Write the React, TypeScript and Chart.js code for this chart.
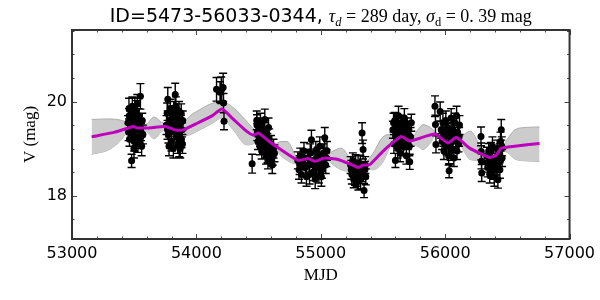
import React, { useEffect, useRef } from "react";
import { Chart, registerables } from "chart.js";

Chart.register(...registerables);

// ---------- text ----------
const titleId = "ID=5473-56033-0344,";
const tauText = "289";
const sigmaText = "0. 39";
const xTitle = "MJD";
const yTitle = "V (mag)";

// ---------- axes ----------
const xMin = 53000;
const xMax = 57000;
const yMin = 17.08;
const yMax = 21.52;
const xTicks = [53000, 54000, 55000, 56000, 57000];
const yTicks = [18, 20];

// ---------- observations (MJD, V mag, error) ----------
const obsMjd = [
  // season 1
  53450, 53455, 53460, 53462, 53470, 53479, 53480, 53485, 53488, 53492, 53495, 53500, 53505, 53508,
  53512, 53515, 53520, 53525, 53530, 53535, 53540, 53545, 53550, 53555, 53560, 53565, 53570,
  // season 2
  53760, 53765, 53770, 53775, 53780, 53785, 53790, 53800, 53805, 53810, 53815, 53820, 53825, 53830,
  53835, 53840, 53845, 53850, 53855, 53860, 53865, 53870, 53875, 53880, 53885, 53890,
  // season 3
  54162, 54190, 54200, 54215, 54218, 54222,
  // season 4
  54448, 54485, 54490, 54495, 54500, 54505, 54510, 54515, 54520, 54525, 54530, 54535, 54540, 54550,
  54555, 54560, 54565, 54570, 54575, 54580, 54590, 54600, 54605, 54610, 54620, 54628,
  // season 5
  54815, 54825, 54835, 54845, 54855, 54865, 54875, 54885, 54895, 54905, 54915, 54925, 54935, 54945,
  54955, 54965, 54975, 54985, 54992, 55000, 55010, 55020, 55032, 55040, 55050,
  // season 6
  55240, 55250, 55258, 55265, 55272, 55280, 55288, 55295, 55302, 55310, 55318, 55325, 55332, 55340,
  55348, 55355, 55362,
  // season 7
  55580, 55588, 55595, 55600, 55605, 55612, 55618, 55625, 55630, 55638, 55645, 55650, 55658, 55665,
  55672, 55680, 55688, 55695, 55700, 55708, 55715, 55722, 55728,
  // season 8
  55918, 55922, 55926, 55960, 55968, 55975, 55982, 55990, 55998, 56005, 56012, 56020, 56028, 56032,
  56040, 56048, 56055, 56062, 56070, 56078, 56085, 56092, 56100, 56108, 56115,
  // season 9
  56288, 56290, 56292, 56294, 56335, 56342, 56350, 56358, 56365, 56372, 56380, 56388, 56395, 56402,
  56410, 56418, 56424, 56430, 56438, 56445, 56451, 56458,
  // additional epochs
  53458, 53468, 53498, 53518, 53532, 53548, 53768, 53795, 53818, 53848, 53862, 53878, 53888,
  54487, 54512, 54545, 54572, 54585, 54615, 54830, 54870, 54910, 54960, 55005, 55045,
  55245, 55275, 55300, 55320, 55358, 55585, 55610, 55642, 55668, 55690, 55712,
  55985, 56015, 56045, 56075, 56095, 56112, 56340, 56368, 56392, 56415, 56440, 56455,
];
const obsMag = [
  19.55, 19.35, 19.7, 19.2, 19.45, 18.74, 19.6, 19.9, 19.3, 19.75, 19.5, 19.15, 19.85, 19.4,
  19.65, 19.25, 19.55, 19.95, 19.1, 19.7, 19.45, 19.2, 20.11, 19.35, 19.05, 19.6, 19.3,
  19.5, 19.75, 20.05, 19.3, 19.05, 19.6, 19.85, 19.15, 19.45, 19.7, 19.0, 19.55, 19.35, 20.15,
  19.9, 19.25, 19.65, 19.1, 19.45, 19.8, 19.3, 19.0, 19.55, 19.2, 19.4, 19.6,
  20.26, 20.2, 20.24, 20.3, 19.97, 19.58,
  18.68, 19.6, 19.35, 19.15, 19.45, 19.25, 19.05, 19.55, 19.3, 18.95, 19.2, 19.4, 19.1, 19.62,
  19.0, 18.85, 19.3, 19.15, 18.75, 19.45, 18.95, 19.1, 18.8, 18.65, 19.0, 18.9,
  18.75, 18.55, 18.85, 18.45, 18.7, 18.95, 18.6, 18.4, 18.8, 18.65, 18.9, 19.19, 18.5, 18.75,
  18.35, 18.6, 18.85, 18.45, 19.05, 18.7, 18.55, 18.9, 19.23, 18.65, 18.95,
  18.65, 18.45, 18.75, 18.35, 18.55, 18.7, 18.4, 18.6, 18.3, 18.5, 18.68, 18.45, 19.33, 18.98,
  18.11, 18.55, 18.4,
  19.4, 19.1, 19.6, 18.75, 19.25, 19.5, 19.0, 19.7, 19.35, 18.9, 19.55, 19.2, 19.45, 19.05,
  19.65, 19.3, 18.85, 19.5, 19.15, 19.4, 18.72, 19.25, 19.55,
  19.9, 19.51, 19.09, 19.79, 19.4, 19.15, 19.55, 18.95, 19.3, 19.6, 19.05, 19.45, 18.85, 18.53,
  19.25, 19.65, 19.0, 19.4, 18.8, 19.55, 19.2, 19.7, 19.35, 19.1, 19.5,
  19.26, 18.94, 18.73, 18.48, 18.85, 18.6, 18.95, 18.45, 18.75, 18.55, 19.05, 18.65, 18.4, 18.8,
  18.6, 19.0, 18.34, 18.7, 18.9, 19.15, 19.4, 18.8,
  19.85, 19.6, 19.0, 19.8, 19.5, 19.4, 19.4, 19.55, 19.8, 19.5, 19.05, 19.75, 19.1,
  19.5, 19.25, 19.35, 18.9, 19.2, 18.85, 18.65, 18.8, 18.45, 18.95, 18.4, 18.8,
  18.55, 18.4, 18.65, 18.35, 18.65, 19.55, 19.3, 19.15, 19.45, 19.25, 19.05,
  19.25, 19.35, 18.95, 19.3, 18.95, 19.25, 18.7, 18.95, 18.55, 18.8, 18.55, 19.05,
];
const obsErr = [
  0.15, 0.18, 0.15, 0.15, 0.12, 0.14, 0.17, 0.2, 0.15, 0.18, 0.13, 0.2, 0.22, 0.15,
  0.16, 0.18, 0.14, 0.2, 0.18, 0.15, 0.16, 0.2, 0.27, 0.18, 0.2, 0.15, 0.2,
  0.2, 0.22, 0.25, 0.18, 0.2, 0.16, 0.2, 0.2, 0.15, 0.18, 0.2, 0.14, 0.16, 0.24,
  0.2, 0.17, 0.15, 0.2, 0.16, 0.2, 0.15, 0.2, 0.16, 0.18, 0.15, 0.2,
  0.25, 0.22, 0.28, 0.3, 0.2, 0.18,
  0.2, 0.2, 0.18, 0.17, 0.2, 0.15, 0.18, 0.2, 0.16, 0.17, 0.15, 0.2, 0.18, 0.22,
  0.2, 0.18, 0.15, 0.17, 0.18, 0.2, 0.16, 0.18, 0.17, 0.18, 0.2, 0.18,
  0.18, 0.2, 0.16, 0.18, 0.15, 0.18, 0.16, 0.2, 0.17, 0.15, 0.2, 0.2, 0.18, 0.15,
  0.2, 0.17, 0.18, 0.18, 0.2, 0.16, 0.18, 0.2, 0.22, 0.18, 0.2,
  0.18, 0.2, 0.16, 0.18, 0.15, 0.17, 0.2, 0.15, 0.18, 0.16, 0.18, 0.15, 0.22, 0.2,
  0.15, 0.18, 0.17,
  0.18, 0.2, 0.17, 0.15, 0.18, 0.16, 0.2, 0.2, 0.15, 0.18, 0.16, 0.17, 0.15, 0.2,
  0.2, 0.16, 0.18, 0.15, 0.17, 0.18, 0.16, 0.2, 0.18,
  0.22, 0.2, 0.18, 0.2, 0.18, 0.17, 0.2, 0.18, 0.16, 0.2, 0.18, 0.16, 0.2, 0.15,
  0.17, 0.2, 0.18, 0.16, 0.18, 0.2, 0.17, 0.2, 0.18, 0.17, 0.2,
  0.2, 0.18, 0.16, 0.18, 0.18, 0.2, 0.16, 0.18, 0.15, 0.18, 0.2, 0.16, 0.2, 0.17,
  0.16, 0.18, 0.18, 0.17, 0.2, 0.2, 0.22, 0.18,
  0.22, 0.2, 0.2, 0.22, 0.2, 0.18, 0.2, 0.22, 0.2, 0.2, 0.22, 0.2, 0.2,
  0.22, 0.2, 0.2, 0.2, 0.22, 0.2, 0.2, 0.18, 0.2, 0.2, 0.2, 0.18,
  0.2, 0.18, 0.2, 0.2, 0.18, 0.2, 0.2, 0.18, 0.2, 0.2, 0.2,
  0.2, 0.18, 0.2, 0.2, 0.18, 0.2, 0.2, 0.18, 0.2, 0.2, 0.18, 0.2,
];

// ---------- model mean ----------
const gpMjd = [
  53158, 53345, 53492, 53519, 53613, 53747, 53841, 53894, 54014, 54122, 54205, 54283, 54390, 54456,
  54500, 54590, 54657, 54818, 54898, 54952, 55032, 55139, 55247, 55300, 55340, 55394, 55514, 55648,
  55715, 55916, 56022, 56090, 56197, 56357, 56410, 56451, 56558, 56759,
];
const gpMag = [
  19.25, 19.35, 19.47, 19.44, 19.44, 19.47, 19.39, 19.4, 19.55, 19.69, 19.84, 19.66, 19.4, 19.29,
  19.33, 19.14, 19.02, 18.75, 18.79, 18.73, 18.8, 18.77, 18.66, 18.6, 18.65, 18.66, 18.98, 19.26,
  19.16, 19.31, 19.12, 19.24, 19.01, 18.81, 18.86, 19.01, 19.05, 19.11,
];

// ---------- model uncertainty band ----------
const bandMjd = [
  53158, 53300, 53400, 53450, 53500, 53570, 53600, 53660, 53720, 53760, 53800, 53880, 53920, 54028,
  54135, 54202, 54296, 54404, 54470, 54500, 54550, 54630, 54680, 54730, 54800, 54850, 54950,
  55050, 55100, 55166, 55220, 55280, 55360, 55420, 55500, 55560, 55600, 55650, 55730, 55780, 55822,
  55880, 55920, 56020, 56100, 56150, 56200, 56260, 56300, 56360, 56420, 56464, 56500, 56560, 56650,
  56759,
];
const bandUpper = [
  19.62, 19.63, 19.6, 19.55, 19.53, 19.5, 19.52, 19.67, 19.56, 19.52, 19.47, 19.45, 19.62, 19.83,
  19.97, 20.0, 19.87, 19.58, 19.4, 19.38, 19.28, 19.1, 19.15, 19.15, 18.85, 18.8, 18.78,
  18.85, 18.95, 19.01, 18.85, 18.65, 18.7, 18.9, 19.25, 19.3, 19.28, 19.3, 19.22, 19.4, 19.51,
  19.45, 19.36, 19.17, 19.28, 19.3, 19.37, 19.15, 18.88, 18.86, 18.92, 19.05, 19.2, 19.4, 19.45,
  19.46,
];
const bandLower = [
  18.88, 18.98, 19.2, 19.38, 19.41, 19.38, 19.36, 19.21, 19.36, 19.42, 19.35, 19.31, 19.28, 19.4,
  19.55, 19.65, 19.4, 19.08, 19.12, 19.24, 19.18, 19.0, 18.85, 18.75, 18.68, 18.7, 18.68,
  18.75, 18.65, 18.55, 18.52, 18.55, 18.58, 18.55, 18.72, 19.05, 19.15, 19.22, 19.1, 19.05, 18.98,
  19.12, 19.26, 19.07, 19.18, 18.95, 18.77, 18.75, 18.75, 18.76, 18.82, 18.95, 18.92, 18.78, 18.74,
  18.73,
];

const SANS = '"DejaVu Sans", sans-serif';
const SERIF = '"Liberation Serif", "DejaVu Serif", serif';

const errorBarPlugin = {
  id: "errorBars",
  beforeDatasetDraw(chart: any, args: any) {
    if (args.index !== 2) return;
    const { ctx, scales, chartArea } = chart;
    const xs = scales.x;
    const ys = scales.y;
    ctx.save();
    ctx.beginPath();
    ctx.rect(chartArea.left, chartArea.top, chartArea.right - chartArea.left, chartArea.bottom - chartArea.top);
    ctx.clip();
    ctx.strokeStyle = "#000";
    ctx.lineWidth = 1.4;
    ctx.beginPath();
    for (let i = 0; i < obsMjd.length; i++) {
      const px = xs.getPixelForValue(obsMjd[i]);
      const y1 = ys.getPixelForValue(obsMag[i] + obsErr[i]);
      const y2 = ys.getPixelForValue(obsMag[i] - obsErr[i]);
      ctx.moveTo(px, y1);
      ctx.lineTo(px, y2);
      ctx.moveTo(px - 4, y1);
      ctx.lineTo(px + 4, y1);
      ctx.moveTo(px - 4, y2);
      ctx.lineTo(px + 4, y2);
    }
    ctx.stroke();
    ctx.restore();
  },
};

const framePlugin = {
  id: "frame",
  afterDraw(chart: any) {
    const { ctx, chartArea, scales } = chart;
    const { left, right, top, bottom } = chartArea;
    const xs = scales.x;
    const ys = scales.y;
    ctx.save();
    // ticks
    ctx.strokeStyle = "#444";
    ctx.lineWidth = 1;
    ctx.beginPath();
    for (let v = xMin; v <= xMax; v += 200) {
      const px = Math.round(xs.getPixelForValue(v)) + 0.5;
      const len = v % 1000 === 0 ? 5 : 2.5;
      ctx.moveTo(px, bottom);
      ctx.lineTo(px, bottom - len);
      ctx.moveTo(px, top);
      ctx.lineTo(px, top + len);
    }
    for (let v = 17.5; v <= 21.5; v += 0.5) {
      const py = Math.round(ys.getPixelForValue(v)) + 0.5;
      const len = v % 2 === 0 ? 5 : 2.5;
      ctx.moveTo(left, py);
      ctx.lineTo(left + len, py);
      ctx.moveTo(right, py);
      ctx.lineTo(right - len, py);
    }
    ctx.stroke();
    // frame
    ctx.strokeStyle = "#333";
    ctx.lineWidth = 2;
    ctx.strokeRect(left, top, right - left, bottom - top);

    // title
    const S = 18;
    const sub = 12.5;
    const parts = [
      { t: titleId + " ", f: `19px ${SANS}`, dy: 0 },
      { t: "\u03C4", f: `italic ${S}px ${SERIF}`, dy: 0 },
      { t: "d", f: `italic ${sub}px ${SERIF}`, dy: 4 },
      { t: " = " + tauText + " day, ", f: `${S}px ${SERIF}`, dy: 0 },
      { t: "\u03C3", f: `italic ${S}px ${SERIF}`, dy: 0 },
      { t: "d", f: `${sub}px ${SERIF}`, dy: 4 },
      { t: " = " + sigmaText + " mag", f: `${S}px ${SERIF}`, dy: 0 },
    ];
    let total = 0;
    const widths: number[] = [];
    for (const p of parts) {
      ctx.font = p.f;
      const w = ctx.measureText(p.t).width;
      widths.push(w);
      total += w;
    }
    let x = (left + right) / 2 - total / 2;
    ctx.fillStyle = "#000";
    ctx.textBaseline = "alphabetic";
    ctx.textAlign = "left";
    parts.forEach((p, i) => {
      ctx.font = p.f;
      ctx.fillText(p.t, x, 22 + p.dy);
      x += widths[i];
    });
    ctx.restore();
  },
};

export default function App() {
  const ref = useRef<HTMLCanvasElement | null>(null);
  useEffect(() => {
    if (!ref.current) return;
    const chart = new Chart(ref.current, {
      type: "scatter",
      data: {
        datasets: [
          {
            label: "upper",
            data: bandMjd.map((x, i) => ({ x, y: bandUpper[i] })),
            showLine: true,
            borderColor: "#acacac",
            borderWidth: 1,
            backgroundColor: "#cccccc",
            pointRadius: 0,
            cubicInterpolationMode: "monotone",
            fill: "+1",
            order: 2,
          } as any,
          {
            label: "lower",
            data: bandMjd.map((x, i) => ({ x, y: bandLower[i] })),
            showLine: true,
            borderColor: "#acacac",
            borderWidth: 1,
            pointRadius: 0,
            cubicInterpolationMode: "monotone",
            fill: false,
            order: 2,
          } as any,
          {
            label: "obs",
            data: obsMjd.map((x, i) => ({ x, y: obsMag[i] })),
            pointRadius: 3.5,
            pointBackgroundColor: "#000",
            pointBorderWidth: 0,
            borderWidth: 0,
            order: 1,
          } as any,
          {
            label: "mean",
            data: gpMjd.map((x, i) => ({ x, y: gpMag[i] })),
            showLine: true,
            borderColor: "#bf00bf",
            borderWidth: 3,
            pointRadius: 0,
            tension: 0.15,
            fill: false,
            order: 0,
          } as any,
        ],
      },
      options: {
        animation: false,
        responsive: false,
        devicePixelRatio: 1,
        layout: { padding: { top: 30, right: 30, left: 0, bottom: 0 } },
        plugins: { legend: { display: false }, tooltip: { enabled: false }, title: { display: false } },
        scales: {
          x: {
            type: "linear",
            min: xMin,
            max: xMax,
            afterBuildTicks: (s: any) => {
              s.ticks = xTicks.map((v) => ({ value: v }));
            },
            afterFit: (s: any) => {
              s.height = 61;
            },
            grid: { display: false, drawTicks: false },
            border: { display: false },
            ticks: {
              autoSkip: false,
              maxRotation: 0,
              padding: 5,
              color: "#000",
              font: { family: SANS, size: 16 },
              callback: (v: any) => String(v),
            },
            title: {
              display: true,
              text: xTitle,
              color: "#000",
              font: { family: SERIF, size: 17 },
              padding: { top: 0, bottom: 14 },
            },
          },
          y: {
            type: "linear",
            min: yMin,
            max: yMax,
            afterBuildTicks: (s: any) => {
              s.ticks = yTicks.map((v) => ({ value: v }));
            },
            afterFit: (s: any) => {
              s.width = 72;
            },
            grid: { display: false, drawTicks: false },
            border: { display: false },
            ticks: {
              padding: 5,
              color: "#000",
              font: { family: SANS, size: 16 },
              callback: (v: any) => String(v),
            },
            title: {
              display: true,
              text: yTitle,
              color: "#000",
              font: { family: SERIF, size: 17 },
              padding: { top: 20, bottom: 0 },
            },
          },
        },
      } as any,
      plugins: [errorBarPlugin, framePlugin],
    });
    return () => chart.destroy();
  }, []);
  return (
    <div style={{ position: "absolute", left: 0, top: 0, width: 600, height: 300, background: "#fff" }}>
      <canvas ref={ref} width={600} height={300} />
    </div>
  );
}
